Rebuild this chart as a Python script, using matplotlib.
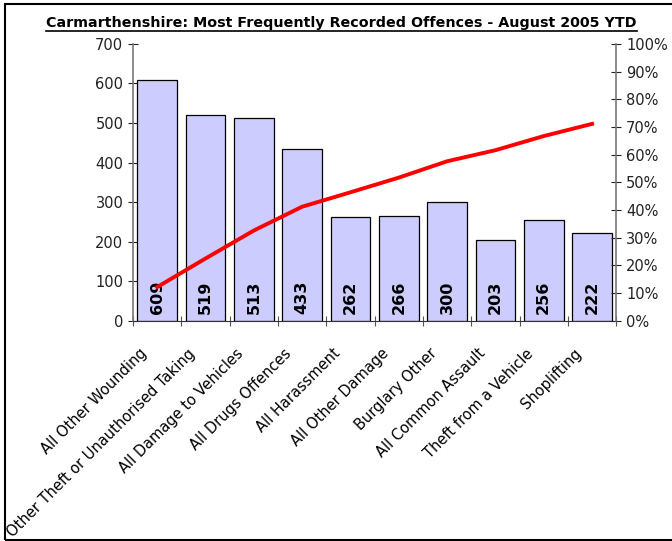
import numpy as np
import matplotlib
matplotlib.use("Agg")
import matplotlib.pyplot as plt
from matplotlib.patches import Rectangle
from matplotlib.lines import Line2D

#%% DATA
offences = ["All Other Wounding", "Other Theft or Unauthorised Taking",
            "All Damage to Vehicles", "All Drugs Offences", "All Harassment",
            "All Other Damage", "Burglary Other", "All Common Assault",
            "Theft from a Vehicle", "Shoplifting"]
counts = [609, 519, 513, 433, 262, 266, 300, 203, 256, 222]
cumulative_pct = [12.2, 22.5, 32.6, 41.2, 46.4, 51.7, 57.6, 61.6, 66.7, 71.1]
left_ticks = [0, 100, 200, 300, 400, 500, 600, 700]
right_ticks = [0, 10, 20, 30, 40, 50, 60, 70, 80, 90, 100]
title = "Carmarthenshire: Most Frequently Recorded Offences - August 2005 YTD"

#%% PLOT
plt.rcParams['font.family'] = ['DejaVu Sans']
fig = plt.figure(figsize=(6.72, 5.41), dpi=100)
ax = fig.add_axes([0.198, 0.407, 0.719, 0.512])

x = np.arange(len(offences))
ax.bar(x, counts, width=0.82, color="#CCCCFF", edgecolor="black", linewidth=0.9, zorder=2)
for xi, c in zip(x, counts):
    ax.annotate(str(c), (xi, 0), xytext=(0, 5), textcoords="offset points",
                rotation=90, ha="center", va="bottom", fontsize=11.5, fontweight="bold", zorder=4)

# category labels placed by hand so they sit like the original
for xi, name in zip(x, offences):
    ax.annotate(name, (xi, 0), xytext=(-13, -18), textcoords="offset points",
                rotation=45, ha="right", va="top", rotation_mode="anchor",
                fontsize=10.5, annotation_clip=False)

ax.set_xlim(-0.5, len(offences) - 0.5)
ax.set_ylim(0, 700)
ax.set_yticks(left_ticks)
ax.tick_params(axis="y", direction="inout", length=7, labelsize=10.5, colors="#222222")
ax.set_xticks(np.arange(-0.5, len(offences), 1))
ax.set_xticklabels([])
ax.tick_params(axis="x", direction="inout", length=7, color="#555555")
for s in ["top", "right"]:
    ax.spines[s].set_visible(False)
ax.spines["left"].set_color("#777777")
ax.spines["bottom"].set_color("#333333")
ax.spines["left"].set_linewidth(1.2)

ax2 = ax.twinx()
ax2.plot(x, cumulative_pct, color="red", linewidth=2.8, zorder=5)
ax2.set_ylim(0, 100)
ax2.set_yticks(right_ticks)
ax2.set_yticklabels([f"{t}%" for t in right_ticks])
ax2.tick_params(axis="y", direction="inout", length=7, labelsize=10.5, colors="#222222")
for s in ["top", "left", "bottom"]:
    ax2.spines[s].set_visible(False)
ax2.spines["right"].set_color("#777777")
ax2.spines["right"].set_linewidth(1.2)

t = fig.text(0.508, 0.957, title, ha="center", va="center", fontsize=10.3, fontweight="bold")
fig.canvas.draw()
bb = t.get_window_extent().transformed(fig.transFigure.inverted())
fig.add_artist(Line2D([bb.x0, bb.x1], [bb.y0 - 0.002, bb.y0 - 0.002], color="black",
                      linewidth=1.2, transform=fig.transFigure))

# chart border
fig.add_artist(Rectangle((0.007, 0.002), 1.1, 0.99, fill=False, edgecolor="black",
                         linewidth=1.5, transform=fig.transFigure))

fig.savefig("out.png", dpi=100)
